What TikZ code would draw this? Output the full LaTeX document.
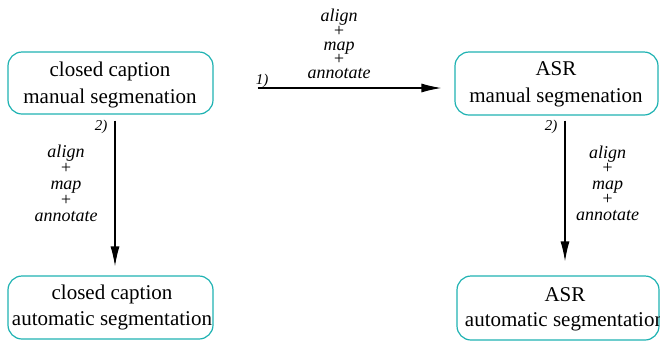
\documentclass[tikz,border=0pt]{standalone}
\usepackage{fontspec}
\setmainfont{Liberation Serif}
\usetikzlibrary{arrows.meta,calc}
\definecolor{boxteal}{RGB}{30,178,178}
\tikzset{
  box/.style={draw=boxteal, line width=1.2pt, rounded corners=14pt, minimum width=#1, inner sep=0pt},
  boxtext/.style={inner sep=0pt, align=center, font=\fontsize{21}{27}\selectfont},
  lbl/.style={inner sep=0pt, align=center},
  num/.style={inner sep=0pt, anchor=base, font=\fontsize{15}{15}\selectfont\itshape},
  conn/.style={line width=1.2pt, -{Latex[length=20pt,width=9pt]}}
}
\begin{document}
\begin{tikzpicture}[x=1pt,y=-1pt]
\useasboundingbox (0,0) rectangle (660,341);
% boxes
\node[box=205pt, minimum height=62pt] (tl) at (110.5,83) {};
\node[box=203pt, minimum height=63pt] (tr) at (556.5,83.5) {};
\node[box=205pt, minimum height=63pt] (bl) at (110.5,307.5) {};
\node[box=202pt, minimum height=64pt] (br) at (558,308) {};
% box texts
\node[boxtext] (tlt) at (110,84.7) {closed caption\\manual segmenation};
\node[boxtext] (trt) at (556,84.8) {ASR\\manual segmenation};
\node[boxtext, font=\fontsize{21}{26}\selectfont] (blt) at (112,307.7) {closed caption\\automatic segmentation};
\node[boxtext, font=\fontsize{21}{25}\selectfont] (brt) at (565,309.2) {ASR\\automatic segmentation};
% connectors
\draw[conn] ($(tl.east)+(44,5)$) -- ($(tr.west)+(-13,4.5)$);
\draw[conn] ($(tl.south)+(4.5,6)$) -- ($(bl.north)+(4.5,-9)$);
\draw[conn] ($(tr.south)+(8.5,5)$) -- ($(br.north)+(7,-14)$);
% labels
\node[lbl, font=\fontsize{18}{14.3}\selectfont\itshape] (l1) at (339,44.2) {align\\+\\map\\+\\annotate};
\node[lbl, font=\fontsize{18}{16}\selectfont\itshape] (l2) at (66,183.7) {align\\+\\map\\+\\annotate};
\node[lbl, font=\fontsize{18}{15.5}\selectfont\itshape] (l3) at (607.5,182.9) {align\\+\\map\\+\\annotate};
\node[num] (n1) at (262,84) {1)};
\node[num] (n2) at (101,130) {2)};
\node[num] (n3) at (551,130) {2)};
\end{tikzpicture}
\end{document}
